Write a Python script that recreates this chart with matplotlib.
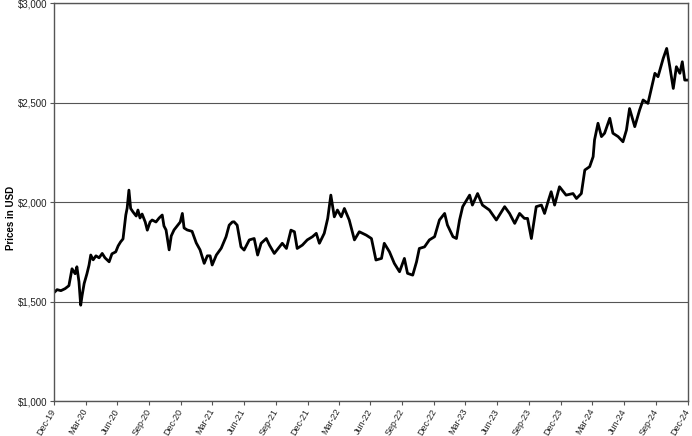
import matplotlib.pyplot as plt
import matplotlib.dates as mdates
import pandas as pd

# Price readings taken off the reference chart (USD)
dates = [
    '2019-12-31', '2020-01-09', '2020-01-20', '2020-02-01', '2020-02-12', '2020-02-21',
    '2020-03-01', '2020-03-06', '2020-03-12', '2020-03-17', '2020-03-21', '2020-03-27',
    '2020-04-04', '2020-04-10', '2020-04-15', '2020-04-22', '2020-04-30', '2020-05-09',
    '2020-05-18', '2020-05-26', '2020-06-07', '2020-06-15', '2020-06-26', '2020-07-03',
    '2020-07-10', '2020-07-17', '2020-07-25', '2020-07-29', '2020-08-03', '2020-08-08',
    '2020-08-15', '2020-08-24', '2020-08-29', '2020-09-04', '2020-09-10', '2020-09-19',
    '2020-09-25', '2020-10-03', '2020-10-09', '2020-10-20', '2020-10-29', '2020-11-07',
    '2020-11-12', '2020-11-18', '2020-11-27', '2020-12-03', '2020-12-11', '2020-12-20',
    '2020-12-29', '2021-01-04', '2021-01-09', '2021-01-18', '2021-02-01', '2021-02-13',
    '2021-02-24', '2021-03-08', '2021-03-17', '2021-03-25', '2021-03-31', '2021-04-12',
    '2021-04-26', '2021-05-10', '2021-05-19', '2021-05-28', '2021-06-02', '2021-06-11',
    '2021-06-22', '2021-07-01', '2021-07-16', '2021-07-30', '2021-08-09', '2021-08-19',
    '2021-09-03', '2021-09-12', '2021-09-26', '2021-10-19', '2021-10-31', '2021-11-13',
    '2021-11-23', '2021-12-01', '2021-12-16', '2021-12-30', '2022-01-14', '2022-01-25',
    '2022-02-03', '2022-02-17', '2022-02-27', '2022-03-08', '2022-03-18', '2022-03-27',
    '2022-04-07', '2022-04-16', '2022-04-30', '2022-05-15', '2022-05-29', '2022-06-18',
    '2022-07-03', '2022-07-16', '2022-08-01', '2022-08-09', '2022-08-24', '2022-09-07',
    '2022-09-22', '2022-10-06', '2022-10-15', '2022-10-30', '2022-11-10', '2022-11-18',
    '2022-12-03', '2022-12-17', '2023-01-01', '2023-01-15', '2023-01-30', '2023-02-07',
    '2023-02-23', '2023-03-05', '2023-03-14', '2023-03-23', '2023-04-12', '2023-04-20',
    '2023-05-05', '2023-05-19', '2023-06-08', '2023-06-28', '2023-07-22', '2023-08-05',
    '2023-08-20', '2023-09-03', '2023-09-17', '2023-09-26', '2023-10-07', '2023-10-21',
    '2023-11-05', '2023-11-14', '2023-11-24', '2023-12-03', '2023-12-13', '2023-12-27',
    '2024-01-15', '2024-02-04', '2024-02-14', '2024-02-28', '2024-03-09', '2024-03-23',
    '2024-04-02', '2024-04-06', '2024-04-16', '2024-04-26', '2024-05-05', '2024-05-20',
    '2024-05-29', '2024-06-13', '2024-06-27', '2024-07-07', '2024-07-16', '2024-07-31',
    '2024-08-14', '2024-08-24', '2024-09-07', '2024-09-17', '2024-09-27', '2024-10-06',
    '2024-10-21', '2024-10-31', '2024-11-09', '2024-11-19', '2024-11-28', '2024-12-08',
    '2024-12-15', '2024-12-22', '2024-12-31',
]
prices = [
    1545, 1560, 1555, 1565, 1580, 1665,
    1640, 1675, 1600, 1482, 1530, 1591,
    1640, 1683, 1734, 1710, 1730, 1720,
    1742, 1720, 1700, 1740, 1750, 1780,
    1800, 1815, 1935, 1970, 2060, 1968,
    1950, 1930, 1960, 1920, 1940, 1900,
    1859, 1900, 1910, 1900, 1920, 1935,
    1880, 1860, 1760, 1830, 1860, 1880,
    1900, 1943, 1870, 1860, 1853, 1795,
    1760, 1692, 1730, 1730, 1684, 1734,
    1768, 1826, 1884, 1900, 1901, 1884,
    1775, 1759, 1810, 1817, 1734, 1793,
    1817, 1784, 1742, 1793, 1767, 1859,
    1851, 1767, 1784, 1810, 1826, 1843,
    1793, 1843, 1918, 2035, 1926, 1960,
    1926, 1968, 1910, 1810, 1851, 1834,
    1817, 1709, 1717, 1793, 1750, 1692,
    1650, 1717, 1642, 1633, 1700, 1767,
    1775, 1810, 1826, 1910, 1943, 1885,
    1826, 1817, 1910, 1977, 2035, 1985,
    2043, 1985, 1960, 1910, 1977, 1943,
    1893, 1943, 1918, 1918, 1817, 1977,
    1985, 1943, 2002, 2052, 1985, 2077,
    2035, 2043, 2018, 2043, 2161, 2178,
    2228, 2312, 2396, 2329, 2346, 2421,
    2346, 2329, 2303, 2362, 2470, 2379,
    2463, 2513, 2496, 2571, 2647, 2630,
    2722, 2772, 2680, 2571, 2680, 2647,
    2705, 2613, 2613,
]

# quarter-end ticks
tick_dates = pd.date_range('2019-12-31', '2024-12-31', freq='QE')
y_ticks = [1000, 1500, 2000, 2500, 3000]

plt.rcParams['font.family'] = ['Liberation Sans', 'DejaVu Sans']

fig = plt.figure(figsize=(6.92, 4.36), dpi=100)
ax = fig.add_axes([0.078, 0.080, 0.916, 0.913])

ax.plot(pd.to_datetime(dates), prices, color='black', linewidth=2)

ax.set_xlim(pd.Timestamp('2019-12-31'), pd.Timestamp('2024-12-31'))
ax.set_ylim(1000, 3000)
ax.set_yticks(y_ticks)
ax.set_yticklabels(['${:,}'.format(v) for v in y_ticks])
ax.set_xticks(tick_dates)
ax.xaxis.set_major_formatter(mdates.DateFormatter('%b-%y'))
plt.setp(ax.get_xticklabels(), rotation=60, ha='right', va='center',
         rotation_mode='anchor', fontsize=6.5)

ax.grid(axis='y', color='#555555', linewidth=0.8)
ax.set_axisbelow(True)
for s in ax.spines.values():
    s.set_color('#555555')
    s.set_linewidth(1)
ax.tick_params(axis='y', labelsize=7, length=3, color='#555555', labelcolor='#222222', pad=2)
ax.tick_params(axis='x', length=3, color='#555555', labelcolor='#222222', pad=3)

fig.text(0.008, 0.5, 'Prices in USD', rotation=90, fontsize=7, fontweight='bold',
         ha='left', va='center')

plt.savefig('out.png', dpi=100)
plt.close()
